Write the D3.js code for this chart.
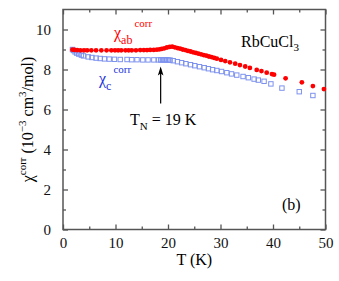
<!DOCTYPE html>
<html>
<head>
<meta charset="utf-8">
<script src="https://cdn.jsdelivr.net/npm/d3@7"></script>
<style>
  body { margin: 0; background: #fff; }
  svg text { font-family: "Liberation Serif", "DejaVu Serif", serif; }
</style>
</head>
<body>
<div id="chart"></div>
<script>
var width = 339;
var height = 281;
var margin = { top: 9.5, right: 13.5, bottom: 51.5, left: 63 };

// chi_ab (red filled circles)
var abT = [1.8, 2.2, 2.7, 3.3, 4.0, 4.6, 5.4, 6.3, 7.3, 8.3, 9.2, 9.9, 10.5, 11.1, 11.9, 12.5,
  13.1, 13.9, 14.7, 15.4, 16.0, 16.6, 17.3, 17.9, 18.4, 18.8, 19.3, 19.8, 20.3, 20.8, 21.3,
  21.8, 22.3, 22.8, 23.3, 23.8, 24.3, 24.8, 25.3, 25.8, 26.3, 26.8, 27.3, 27.8, 28.3, 28.8,
  29.3, 30.1, 30.9, 31.8, 32.8, 33.7, 34.7, 35.6, 36.9, 37.8, 38.8, 39.8, 40.2, 42.4, 45.5,
  47.6, 49.7];
var abChi = [8.99, 8.98, 8.97, 8.96, 8.96, 8.96, 8.96, 8.96, 8.96, 8.96, 8.96, 8.96, 8.96, 8.96, 8.96, 8.96,
  8.96, 8.96, 8.97, 8.97, 8.97, 8.98, 8.98, 8.99, 9.01, 9.03, 9.06, 9.10, 9.13, 9.14, 9.11,
  9.07, 9.04, 9.00, 8.97, 8.93, 8.90, 8.86, 8.83, 8.79, 8.76, 8.72, 8.69, 8.65, 8.62, 8.58,
  8.54, 8.48, 8.42, 8.36, 8.29, 8.22, 8.15, 8.08, 7.98, 7.92, 7.84, 7.77, 7.74, 7.56, 7.36,
  7.17, 7.02];

// chi_c (blue open squares)
var cT = [1.8, 2.0, 2.3, 2.6, 3.0, 3.5, 3.9, 4.8, 5.5, 6.3, 7.1, 7.9, 8.8, 9.8, 10.9, 12.2,
  13.1, 14.1, 15.2, 16.2, 17.3, 18.2, 18.6, 18.9, 19.2, 19.5, 19.8, 20.1, 20.4, 21.0, 21.8,
  22.6, 23.4, 24.3, 25.1, 26.0, 26.9, 27.7, 28.5, 29.3, 30.2, 31.2, 32.1, 33.1, 34.3, 35.3,
  36.4, 37.2, 38.3, 39.6, 41.7, 45.0, 47.6];
var cChi = [9.00, 8.95, 8.88, 8.82, 8.77, 8.72, 8.68, 8.63, 8.60, 8.57, 8.55, 8.53, 8.52, 8.51, 8.50, 8.50,
  8.49, 8.49, 8.48, 8.48, 8.48, 8.48, 8.48, 8.48, 8.48, 8.48, 8.48, 8.47, 8.47, 8.44, 8.39,
  8.34, 8.29, 8.24, 8.19, 8.14, 8.09, 8.04, 7.99, 7.95, 7.90, 7.84, 7.78, 7.72, 7.65, 7.59,
  7.52, 7.47, 7.41, 7.28, 7.07, 6.89, 6.70];

var xTicks = [0, 10, 20, 30, 40, 50];
var yTicks = [0, 2, 4, 6, 8, 10];
var tN = 19;

var w = width - margin.left - margin.right;
var h = height - margin.top - margin.bottom;

var svg = d3.select("#chart").append("svg")
  .attr("width", width)
  .attr("height", height);

var g = svg.append("g")
  .attr("transform", "translate(" + margin.left + "," + margin.top + ")");

var x = d3.scaleLinear().domain([0, 50]).range([0, w]);
var y = d3.scaleLinear().domain([0, 11]).range([h, 0]);

var axisColor = "#555";

function styleAxis(sel) {
  sel.select(".domain").remove();
  sel.selectAll("line").attr("stroke", axisColor).attr("stroke-width", 1.3);
  sel.selectAll("text").attr("fill", "#111").style("font-size", "15px");
}

// bottom
g.append("g").attr("transform", "translate(0," + h + ")")
  .call(d3.axisBottom(x).tickValues(xTicks).tickSize(-5).tickPadding(8).tickFormat(d3.format("d")))
  .call(styleAxis);
g.append("g").attr("transform", "translate(0," + h + ")")
  .call(d3.axisBottom(x).tickValues(d3.range(5, 50, 10)).tickSize(-3).tickFormat(""))
  .call(styleAxis);
// top
g.append("g")
  .call(d3.axisTop(x).tickValues(xTicks).tickSize(-5).tickFormat(""))
  .call(styleAxis);
g.append("g")
  .call(d3.axisTop(x).tickValues(d3.range(5, 50, 10)).tickSize(-3).tickFormat(""))
  .call(styleAxis);
// left
g.append("g")
  .call(d3.axisLeft(y).tickValues(yTicks).tickSize(-5).tickPadding(12).tickFormat(d3.format("d")))
  .call(styleAxis);
g.append("g")
  .call(d3.axisLeft(y).tickValues(d3.range(1, 11, 2)).tickSize(-3).tickFormat(""))
  .call(styleAxis);
// right
g.append("g").attr("transform", "translate(" + w + ",0)")
  .call(d3.axisRight(y).tickValues(yTicks).tickSize(-5).tickFormat(""))
  .call(styleAxis);
g.append("g").attr("transform", "translate(" + w + ",0)")
  .call(d3.axisRight(y).tickValues(d3.range(1, 11, 2)).tickSize(-3).tickFormat(""))
  .call(styleAxis);

g.append("rect")
  .attr("width", w).attr("height", h)
  .attr("fill", "none")
  .attr("stroke", axisColor)
  .attr("stroke-width", 1.5);

// chi_c squares
var s = 4.4;
g.selectAll(".sq").data(d3.zip(cT, cChi)).enter().append("rect")
  .attr("class", "sq")
  .attr("x", function(d) { return x(d[0]) - s / 2; })
  .attr("y", function(d) { return y(d[1]) - s / 2; })
  .attr("width", s).attr("height", s)
  .attr("fill", "none")
  .attr("stroke", "#7d92ee")
  .attr("stroke-width", 1);

// chi_ab circles
g.selectAll(".dot").data(d3.zip(abT, abChi)).enter().append("circle")
  .attr("class", "dot")
  .attr("cx", function(d) { return x(d[0]); })
  .attr("cy", function(d) { return y(d[1]); })
  .attr("r", 2.4)
  .attr("fill", "#ff0000");

// arrow for T_N
var ax = x(18.6);
g.append("line")
  .attr("x1", ax).attr("x2", ax)
  .attr("y1", y(6.3)).attr("y2", y(8.0))
  .attr("stroke", "#000").attr("stroke-width", 1.2);
g.append("path")
  .attr("d", "M" + ax + "," + y(8.15) + " L" + (ax - 2.8) + "," + (y(8.15) + 9) +
    " L" + ax + "," + (y(8.15) + 7) + " L" + (ax + 2.8) + "," + (y(8.15) + 9) + " Z")
  .attr("fill", "#000");

// labels
var tnText = svg.append("text")
  .attr("x", 130).attr("y", 125)
  .style("font-size", "16px").attr("fill", "#000");
tnText.append("tspan").text("T");
tnText.append("tspan").attr("dy", 5).style("font-size", "11px").text("N");
tnText.append("tspan").attr("dy", -5).text(" = " + tN + " K");

var abLab = svg.append("text")
  .attr("x", 114).attr("y", 38)
  .attr("fill", "#ff0000").style("font-size", "16px");
abLab.append("tspan").text("χ");
abLab.append("tspan").attr("dy", 6).style("font-size", "12px").text("ab");
abLab.append("tspan").attr("dy", -17).attr("dx", 2).style("font-size", "11px").text("corr");

var cLab = svg.append("text")
  .attr("x", 99).attr("y", 84)
  .attr("fill", "#2233dd").style("font-size", "16px");
cLab.append("tspan").text("χ");
cLab.append("tspan").attr("dy", 6).style("font-size", "12px").text("c");
cLab.append("tspan").attr("dy", -17).attr("dx", 2).style("font-size", "11px").text("corr");

var cmp = svg.append("text")
  .attr("x", 241).attr("y", 47)
  .attr("fill", "#000").style("font-size", "16px");
cmp.append("tspan").text("RbCuCl");
cmp.append("tspan").attr("dy", 4).style("font-size", "11px").text("3");

svg.append("text")
  .attr("x", 282).attr("y", 210)
  .style("font-size", "16px").attr("fill", "#000")
  .text("(b)");

svg.append("text")
  .attr("x", margin.left + w / 2).attr("y", 265)
  .attr("text-anchor", "middle")
  .style("font-size", "16px").attr("fill", "#000")
  .text("T (K)");

var yl = svg.append("text")
  .attr("transform", "translate(33," + (margin.top + h / 2) + ") rotate(-90)")
  .attr("text-anchor", "middle")
  .style("font-size", "16px").attr("fill", "#000");
yl.append("tspan").text("χ");
yl.append("tspan").attr("dy", -7).style("font-size", "11px").text("corr");
yl.append("tspan").attr("dy", 7).text(" (10");
yl.append("tspan").attr("dy", -7).style("font-size", "11px").text("−3");
yl.append("tspan").attr("dy", 7).text(" cm");
yl.append("tspan").attr("dy", -7).style("font-size", "11px").text("3");
yl.append("tspan").attr("dy", 7).text("/mol)");
</script>
</body>
</html>
